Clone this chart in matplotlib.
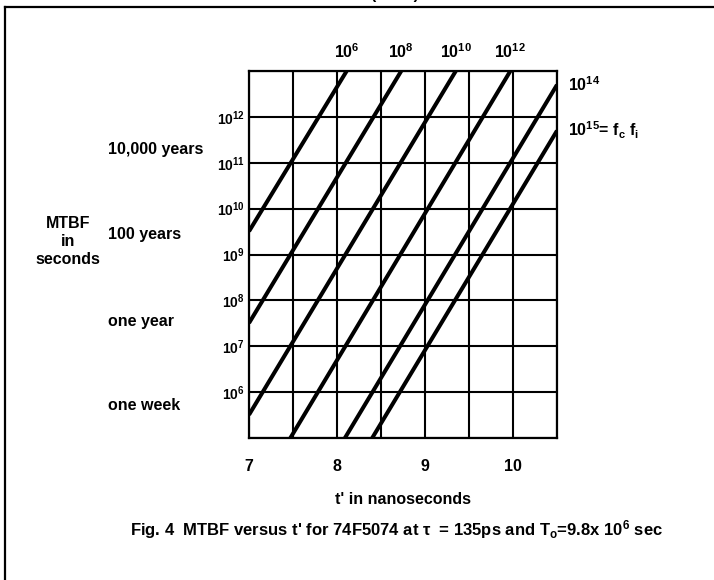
import numpy as np
import matplotlib
matplotlib.use("Agg")
import matplotlib.pyplot as plt
from matplotlib.lines import Line2D
from matplotlib.transforms import blended_transform_factory

plt.rcParams['font.family'] = ['Liberation Sans', 'DejaVu Sans']
plt.rcParams['font.weight'] = 'bold'
plt.rcParams['axes.labelweight'] = 'bold'
plt.rcParams['mathtext.fontset'] = 'custom'
plt.rcParams['mathtext.rm'] = 'Liberation Sans:bold'
plt.rcParams['mathtext.it'] = 'Liberation Sans:bold'
plt.rcParams['mathtext.bf'] = 'Liberation Sans:bold'
plt.rcParams['mathtext.default'] = 'rm'

# f_c * f_i for each curve (exponent of 10)
fcfi_exp = [6, 8, 10, 12, 14, 15]
# where each line enters and leaves the grid (t' in ns, MTBF in s)
t_start = [7.0, 7.0, 7.0, 7.47, 8.09, 8.40]
mtbf_start = [3.2e9, 3.2e7, 3.2e5, 1e5, 1e5, 1e5]
t_end = [8.11, 8.73, 9.35, 9.97, 10.5, 10.5]
mtbf_end = [1e13, 1e13, 1e13, 1e13, 5.0e12, 5.0e11]

# time markers on the MTBF axis
span_names = ['10,000 years', '100 years', 'one year', 'one week']
span_seconds = [1.9e11, 2.7e9, 3.5e7, 5.0e5]

x_min, x_max = 7, 10.5
y_min, y_max = 1e5, 1e13
x_major = [7, 8, 9, 10]
x_grid = np.arange(7, 10.51, 0.5)
y_decades = list(range(5, 14))
y_labelled = list(range(6, 13))

fig = plt.figure(figsize=(7.14, 5.8), dpi=100)
ax = fig.add_axes([249 / 714, 142 / 580, 308 / 714, 367 / 580])

for t0, m0, t1, m1 in zip(t_start, mtbf_start, t_end, mtbf_end):
    ax.plot([t0, t1], [m0, m1], color='black', lw=2.9, solid_capstyle='butt', zorder=3)

ax.set_xlim(x_min, x_max)
ax.set_yscale('log')
ax.set_ylim(y_min, y_max)

ax.set_xticks(x_grid)
ax.set_xticklabels([str(int(v)) if v in x_major else '' for v in x_grid])
ax.set_yticks([10.0 ** d for d in y_decades])
ax.set_yticklabels([f'$10^{{{d}}}$' if d in y_labelled else '' for d in y_decades])
ax.minorticks_off()
ax.tick_params(axis='x', length=0, pad=15, labelsize=11.5)
ax.tick_params(axis='y', length=0, pad=3, labelsize=10)
ax.grid(True, color='black', lw=1.5)
for s in ax.spines.values():
    s.set_linewidth(1.6)

ax.set_xlabel("t' in nanoseconds", fontsize=11.5, labelpad=13)

# curve labels: on top when the line leaves through the top, else at the right
for e, t1, m1 in zip(fcfi_exp, t_end, mtbf_end):
    if t1 < x_max:
        ax.annotate(f'$10^{{{e}}}$', xy=(t1, 1), xycoords=('data', 'axes fraction'),
                    xytext=(0, 7), textcoords='offset points',
                    ha='center', va='bottom', fontsize=11.5)
    else:
        txt = f'$10^{{{e}}}$'
        if e == fcfi_exp[-1]:
            txt += '= f$_c$ f$_i$'
        ax.annotate(txt, xy=(t1, m1), xytext=(8, 0), textcoords='offset points',
                    ha='left', va='center', fontsize=11.5)

trans = blended_transform_factory(fig.transFigure, ax.transData)
for name, sec in zip(span_names, span_seconds):
    fig.text(108 / 714, sec, name, transform=trans, ha='left', va='center', fontsize=11.5)

fig.text(68 / 714, 338 / 580, 'MTBF\nin\nseconds', ha='center', va='center',
         fontsize=11.5, linespacing=1.25, multialignment='center')

fig.text(397 / 714, 50 / 580,
         "Fig. 4  MTBF versus t' for 74F5074 at \u03c4  = 135ps and T$_o$=9.8x 10$^6$ sec",
         ha='center', va='center', fontsize=12)

# page frame (cut off at the right)
fig.add_artist(Line2D([5 / 714, 5 / 714], [0, 1 - 6.5 / 580], color='black', lw=1.6))
fig.add_artist(Line2D([5 / 714, 1], [1 - 6.5 / 580, 1 - 6.5 / 580], color='black', lw=1.6))
# heading of the page above, almost entirely outside the scan
fig.text(395 / 714, 1 + 1 / 580, '(cont.)', ha='center', va='baseline', fontsize=11.5)

fig.savefig('out.png', dpi=100)
